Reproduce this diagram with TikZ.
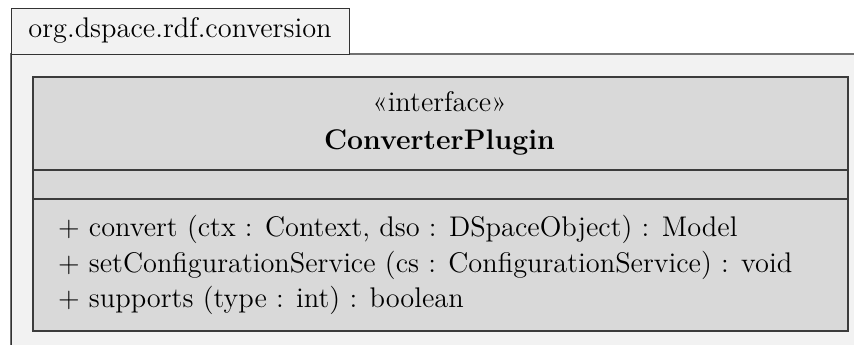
\documentclass[tikz,border=0pt]{standalone}
\usepackage{fontspec}
\definecolor{pkgfill}{HTML}{F2F2F2}
\definecolor{pkgline}{HTML}{707070}
\definecolor{tabline}{HTML}{333333}
\definecolor{classfill}{HTML}{D9D9D9}
\definecolor{classline}{HTML}{3C3C3C}
\tikzset{
  umltext/.style={inner sep=0pt, outer sep=0pt, font=\fontsize{14.2}{17.75}\selectfont},
  pkgtab/.style={draw=tabline, fill=pkgfill, line width=0.5pt, inner sep=0pt},
  classbox/.style={draw=classline, fill=classfill, line width=0.9pt, inner sep=0pt},
  divider/.style={draw=classline, line width=0.9pt},
}
\begin{document}
\begin{tikzpicture}[x=0.5pt,y=-0.5pt]
\useasboundingbox (0,0) rectangle (854,344);
% package body, running past the page edge on the right and bottom
\fill[pkgfill] (11,54) rectangle (880,370);
\draw[pkgline, line width=0.9pt] (11,370) -- (11,54) -- (880,54);
\draw[tabline, line width=0.5pt] (11,370) -- (11,54);
% package name tab
\node[pkgtab, anchor=north west, minimum width=169pt, minimum height=23pt] (tab) at (11,8) {};
\node[umltext, anchor=base] (pkgname) at (180,37) {org.dspace.rdf.conversion};
% the interface class
\node[classbox, anchor=north west, minimum width=407.5pt, minimum height=127pt] (cls) at (32,76) {};
\coordinate (d1l) at (32,170);
\coordinate (d1r) at (847,170);
\coordinate (d2l) at (32,199);
\coordinate (d2r) at (847,199);
\draw[divider] (d1l) -- (d1r);
\draw[divider] (d2l) -- (d2r);
\node[umltext, anchor=base] (stereo) at (439.5,111) {«interface»};
\node[umltext, anchor=base, font=\fontsize{14.2}{17.75}\selectfont\bfseries] (cname) at (439.5,149) {ConverterPlugin};
% operations
\node[umltext, anchor=base west] (op1) at (58,236) {+ convert (ctx : Context, dso : DSpaceObject) : Model};
\node[umltext, anchor=base west] (op2) at (58,272) {+ setConfigurationService (cs : ConfigurationService) : void};
\node[umltext, anchor=base west] (op3) at (58,307) {+ supports (type : int) : boolean};
\end{tikzpicture}
\end{document}
